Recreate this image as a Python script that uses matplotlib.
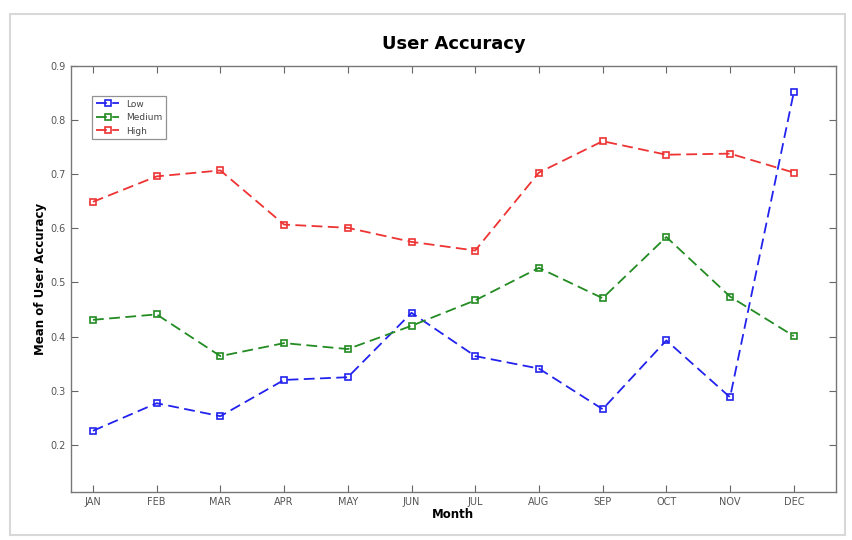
import numpy as np
import matplotlib.pyplot as plt
from matplotlib.patches import Rectangle

months = ["JAN", "FEB", "MAR", "APR", "MAY", "JUN",
          "JUL", "AUG", "SEP", "OCT", "NOV", "DEC"]
low = [0.226, 0.277, 0.253, 0.320, 0.325, 0.444,
       0.364, 0.341, 0.266, 0.393, 0.288, 0.851]
medium = [0.431, 0.441, 0.364, 0.388, 0.377, 0.420,
          0.467, 0.527, 0.471, 0.584, 0.474, 0.401]
high = [0.649, 0.696, 0.707, 0.607, 0.601, 0.575,
        0.559, 0.703, 0.761, 0.736, 0.738, 0.703]

x = np.arange(1, len(months) + 1)

fig = plt.figure(figsize=(8.52, 5.4), dpi=100)
ax = fig.add_axes([0.0833, 0.0889, 0.8977, 0.789])

# grey frame around the whole picture
fig.patches.append(Rectangle((0.012, 0.01), 0.98, 0.965, transform=fig.transFigure,
                             fill=False, edgecolor="#d8d8d8", linewidth=1.5))

series = [("Low", low, "#2222ee"), ("Medium", medium, "#228b22"), ("High", high, "#ee3333")]
for name, vals, col in series:
    ax.plot(x, vals, linestyle="--", dashes=(6, 3), color=col, linewidth=1.3,
            marker="s", markersize=4.5, markerfacecolor="none",
            markeredgecolor=col, markeredgewidth=1.2, label=name)

ax.set_xlim(0.655, 12.66)
ax.set_ylim(0.113, 0.9)
ax.set_xticks(x)
ax.set_xticklabels(months)
ax.set_yticks(np.arange(0.2, 0.91, 0.1))
ax.set_yticklabels([f"{v:.1f}" for v in np.arange(0.2, 0.91, 0.1)])
ax.tick_params(direction="in", top=True, right=True, length=5, width=0.8,
               labelsize=7, colors="#666666", labelcolor="#555555")
for s in ax.spines.values():
    s.set_color("#777777")
    s.set_linewidth(1.0)

ax.set_title("User Accuracy", fontsize=13, fontweight="bold", pad=12)
ax.set_xlabel("Month", fontsize=8.5, fontweight="bold", labelpad=1)
ax.set_ylabel("Mean of User Accuracy", fontsize=8.5, fontweight="bold", labelpad=3)

leg = ax.legend(loc="upper left", bbox_to_anchor=(0.022, 0.94), fontsize=6.5,
                frameon=True, fancybox=False, handlelength=2.6, borderpad=0.4,
                labelspacing=0.5, labelcolor="#444444")
leg.get_frame().set_edgecolor("#777777")
leg.get_frame().set_linewidth(0.9)

fig.savefig("out.png", dpi=100)
